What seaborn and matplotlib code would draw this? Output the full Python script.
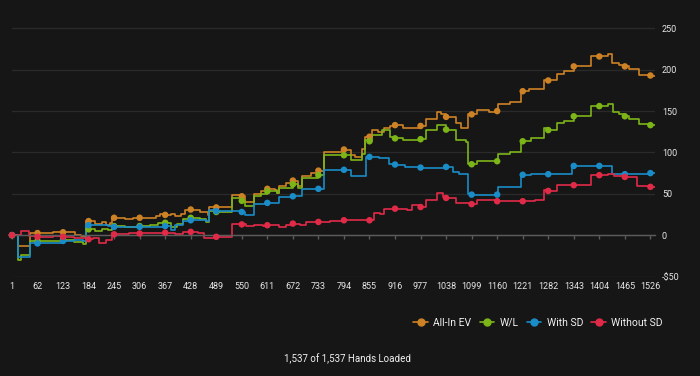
import numpy as np
import pandas as pd
import matplotlib
matplotlib.use("Agg")
import matplotlib.pyplot as plt
from matplotlib.lines import Line2D
import seaborn as sns

# Step breakpoints (hand number, cumulative $)
ev_hands = [1, 15, 43, 62, 100, 123, 151, 165, 179, 184, 200, 215, 225, 235, 240, 245, 270, 290, 306,
            330, 345, 355, 367, 380, 390, 405, 415, 428, 450, 470, 472, 489, 526, 550, 558, 578, 595,
            611, 630, 634, 639, 655, 672, 685, 693, 715, 733, 747, 794, 810, 820, 837, 845, 855, 861,
            875, 890, 905, 916, 935, 955, 977, 989, 1016, 1025, 1038, 1061, 1073, 1091, 1099, 1113,
            1140, 1160, 1163, 1190, 1218, 1221, 1235, 1273, 1282, 1304, 1320, 1343, 1384, 1404, 1425,
            1435, 1450, 1465, 1475, 1499, 1526, 1537]
ev_vals = [0, -13, 3, 2.5, 4, 3.5, 0, -1, 17, 17, 14, 16, 12, 15, 22, 21, 19, 21, 21,
           21, 23, 25, 24.5, 26, 23, 26, 30, 31, 28, 24, 34, 33.5, 48, 47, 40, 50, 53,
           56, 54, 51, 60, 63, 66, 60, 72, 75, 78, 101, 103.5, 97, 95, 104, 119, 119, 127,
           125, 130, 132, 133, 129, 129, 132, 141, 149, 147, 143, 135, 129, 146, 146, 151,
           149, 150, 159, 161, 174, 174, 177, 188, 187, 195, 198, 204, 217, 216, 219,
           208, 206, 204, 201, 194, 193, 193]

wl_hands = [1, 15, 23, 43, 62, 123, 150, 170, 179, 184, 200, 215, 230, 240, 245, 270, 306, 330, 350,
            367, 380, 395, 410, 428, 450, 465, 472, 489, 526, 550, 558, 578, 595, 611, 634, 639, 672,
            685, 693, 733, 747, 794, 810, 837, 845, 855, 861, 884, 904, 916, 935, 955, 977, 989, 1016,
            1038, 1061, 1085, 1091, 1099, 1113, 1160, 1163, 1190, 1218, 1221, 1240, 1273, 1282, 1304,
            1320, 1343, 1384, 1404, 1425, 1437, 1450, 1465, 1475, 1499, 1526, 1537]
wl_vals = [0, -30, -24, -7, -7, -5.5, -8, -11, 7, 7, 5, 8, 6, 11, 11, 10, 11, 12, 15,
           15, 10, 14, 20, 21, 19, 16, 29, 28, 44.5, 41.5, 35, 47, 50, 53, 51, 57, 61.5,
           57, 69.5, 72.5, 96.6, 96.6, 91, 98, 115, 113.5, 121, 127, 119, 117, 115, 115, 116, 127, 133,
           127.6, 114.7, 113, 86.6, 85.7, 89.5, 89.4, 98.6, 100, 114, 113.5, 117, 129, 127, 135,
           138, 143.7, 156, 156, 158, 149, 146, 143.7, 141, 134, 133, 133]

sd_hands = [1, 15, 43, 62, 123, 150, 170, 179, 184, 230, 245, 306, 367, 382, 390, 410, 428, 465, 472,
            489, 550, 558, 578, 611, 639, 672, 693, 733, 747, 794, 810, 846, 855, 877, 901, 916, 941,
            977, 1038, 1055, 1070, 1091, 1099, 1160, 1163, 1218, 1221, 1240, 1282, 1338, 1343, 1404,
            1435, 1465, 1510, 1526, 1537]
sd_vals = [0, -26, -10, -10, -7, -6, -7, 12, 12, 11, 10, 10, 11, 6, 12, 17, 18, 17, 31,
           29, 28, 24, 38, 39, 46, 47, 56, 56, 79, 79, 71, 94.6, 94.6, 93, 86, 85.4, 82.5,
           81.7, 82.5, 76.5, 74.5, 49.5, 49, 49, 58.4, 73.3, 73, 74, 73.7, 83.7, 83.7, 83.7,
           73.7, 73.7, 74, 75, 75]

nsd_hands = [1, 22, 41, 62, 100, 123, 150, 170, 184, 195, 210, 225, 240, 245, 280, 306, 367, 390, 410,
             428, 445, 460, 475, 489, 526, 550, 560, 580, 600, 611, 639, 655, 672, 690, 703, 733, 760,
             794, 855, 865, 880, 889, 916, 945, 957, 977, 989, 1016, 1030, 1038, 1061, 1099, 1113,
             1160, 1221, 1250, 1273, 1282, 1304, 1343, 1384, 1404, 1425, 1440, 1465, 1495, 1526, 1537]
nsd_vals = [0, 5, -1, -2, -1, -2, -3, -4, -5, -4, -10, -6, 2.5, 1, 2, 2, 3, 1, 4,
            4, 2, -4, -3, -2, 14, 13, 11, 12, 11, 12, 10, 12, 14, 12, 16, 16, 17,
            18, 18, 27, 26, 32, 32, 31, 36, 34, 43, 51, 46, 45, 39, 37.5, 42,
            41, 41, 42.5, 54, 53.5, 61, 60.4, 72.5, 72.5, 74.5, 72, 70.4, 59.5, 58.4, 58.4]

series_names = ["All-In EV", "W/L", "With SD", "Without SD"]
colors = ["#cd8226", "#7cb518", "#1a8cc8", "#e12a48"]
tick_hands = list(range(1, 1527, 61))
y_ticks = [-50, 0, 50, 100, 150, 200, 250]
y_labels = ["-$50", "0", "50", "100", "150", "200", "250"]
footer = "1,537 of 1,537 Hands Loaded"

rows, marks = [], []
for name, h, v in zip(series_names,
                      [ev_hands, wl_hands, sd_hands, nsd_hands],
                      [ev_vals, wl_vals, sd_vals, nsd_vals]):
    h = np.array(h)
    v = np.array(v, dtype=float)
    rows.append(pd.DataFrame({"Hand": h, "Value": v, "Series": name}))
    idx = np.searchsorted(h, tick_hands, side="right") - 1
    marks.append(pd.DataFrame({"Hand": tick_hands, "Value": v[idx], "Series": name}))
df = pd.concat(rows, ignore_index=True)
df_marks = pd.concat(marks, ignore_index=True)
palette = dict(zip(series_names, colors))

bg = "#161616"
sns.set_theme(style="dark")
plt.rcParams["font.family"] = ["Roboto", "DejaVu Sans"]

fig = plt.figure(figsize=(7, 3.76), dpi=100, facecolor=bg)
ax = fig.add_axes([0.0171, 0.2646, 0.9186, 0.6864])
ax.set_facecolor(bg)

sns.lineplot(data=df, x="Hand", y="Value", hue="Series", palette=palette,
             drawstyle="steps-post", estimator=None, linewidth=1.2, legend=False, ax=ax)
sns.scatterplot(data=df_marks, x="Hand", y="Value", hue="Series", palette=palette,
                s=22, linewidth=0, legend=False, ax=ax, zorder=3, clip_on=False)

ax.set_xlim(1, 1537)
ax.set_ylim(-50, 262)
ax.set_xlabel("")
ax.set_ylabel("")

# horizontal grid
ax.set_yticks(y_ticks)
ax.set_yticklabels(y_labels)
ax.yaxis.tick_right()
ax.grid(axis="y", color="#2a2a2a", linewidth=1)
ax.grid(axis="x", visible=False)
ax.tick_params(axis="y", length=0, pad=5, labelsize=6.5, labelcolor="#e6e6e6")

# zero line with tick marks, labels at the bottom
for s in ["top", "left", "right"]:
    ax.spines[s].set_visible(False)
ax.spines["bottom"].set_position(("data", 0))
ax.spines["bottom"].set_color("#5c5c5c")
ax.spines["bottom"].set_linewidth(1)
ax.set_xticks(tick_hands)
ax.tick_params(axis="x", direction="out", length=3, width=1, color="#5c5c5c",
               labelbottom=False, bottom=True)

sec = ax.secondary_xaxis("bottom")
sec.set_xticks(tick_hands)
sec.set_xticklabels([str(t) for t in tick_hands])
sec.tick_params(length=0, pad=4, labelsize=6.5, labelcolor="#e6e6e6")
sec.spines["bottom"].set_visible(False)

handles = [Line2D([0], [0], color=c, marker="o", markersize=5, linewidth=1.2) for c in colors]
fig.legend(handles, series_names, loc="center right", bbox_to_anchor=(0.954, 0.141),
           ncol=4, frameon=False, fontsize=7.5, labelcolor="#f0f0f0", borderpad=0,
           handlelength=1.4, handletextpad=0.5, columnspacing=0.8)

fig.text(0.497, 0.045, footer, ha="center", va="center", fontsize=7, color="#f0f0f0")

fig.savefig("out.png", dpi=100, facecolor=bg)
